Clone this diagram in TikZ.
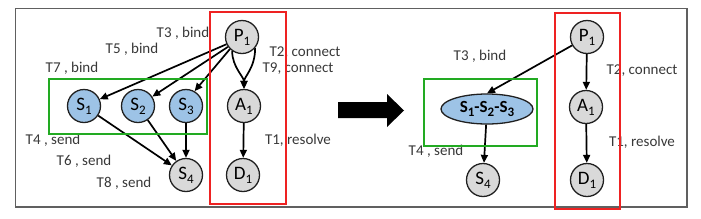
\documentclass[tikz,border=0pt]{standalone}
\usepackage{fontspec}
\setmainfont{Carlito}
\usetikzlibrary{arrows.meta,shapes.geometric}
\definecolor{txt}{HTML}{383838}
\definecolor{ndb}{HTML}{202020}
\definecolor{gfill}{HTML}{D9D9D9}
\definecolor{bfill}{HTML}{9DC3E6}
\definecolor{rbox}{HTML}{EE2222}
\definecolor{gbox}{HTML}{22AA22}
\definecolor{frm}{HTML}{606060}
\newcommand\sbs[1]{\raisebox{-0.45ex}{\fontsize{13}{13}\selectfont #1}}
\begin{document}
\begin{tikzpicture}[x=1pt,y=-1pt,
  st/.style={circle, draw=ndb, line width=1.3pt, minimum size=33pt, inner sep=0pt, fill=gfill, text=black, font=\fontsize{19}{21}\selectfont},
  bl/.style={st, fill=bfill},
  lab/.style={text=txt, font=\fontsize{15}{17}\selectfont, inner sep=0pt},
  arr/.style={-{Triangle[length=8pt,width=7pt]}, line width=1.7pt, draw=black},
  rb/.style={draw=rbox, line width=1.6pt},
  gb/.style={draw=gbox, line width=1.6pt}]
\useasboundingbox (0,0) rectangle (701,218);
\draw[frm, line width=1.4pt] (15.5,8.5) rectangle (687,207);

% left part nodes
\node[st] (P1) at (242,37) {P\sbs{1}};
\node[bl] (S1) at (84,106) {S\sbs{1}};
\node[bl] (S2) at (138,106) {S\sbs{2}};
\node[bl] (S3) at (186,106) {S\sbs{3}};
\node[st] (A1) at (244,106) {A\sbs{1}};
\node[st] (S4) at (186,175) {S\sbs{4}};
\node[st] (D1) at (243,175) {D\sbs{1}};

\draw[arr] (P1.205) -- (S1);
\draw[arr] (P1.215) -- (S2);
\draw[arr] (P1.225) -- (S3.60);
\draw[arr] (P1.235) .. controls +(0,16) and +(0,-12) .. (A1.north);
\draw[arr] (P1.-40) .. controls +(0,20) and +(0,-12) .. (A1.north);
\draw[arr] (A1) -- (D1);
\draw[arr] (S1) -- (S4);
\draw[arr] (S2) -- (S4);
\draw[arr] (S3) -- (S4);

\node[lab] (l3) at (183,33) {T3 , bind};
\node[lab] (l5) at (132,49) {T5 , bind};
\node[lab] (l7) at (72,68) {T7 , bind};
\node[lab] (l2) at (305,53) {T2, connect};
\node[lab] (l9) at (298,69) {T9, connect};
\node[lab] (l4) at (53,140) {T4 , send};
\node[lab] (l6) at (84,161) {T6 , send};
\node[lab] (l8) at (124,183) {T8 , send};
\node[lab] (l1) at (298,140) {T1, resolve};

\draw[rb] (210,12) rectangle (286,204);
\draw[gb] (49,79) rectangle (207,134);

% big arrow
\fill[black] (338,102) -- (387,102) -- (387,94) -- (404,110.5) -- (387,127) -- (387,118) -- (338,118) -- cycle;

% right part
\node[st] (P1r) at (587,37) {P\sbs{1}};
\node[st] (A1r) at (586,107) {A\sbs{1}};
\node[st] (D1r) at (587,180) {D\sbs{1}};
\node[st] (S4r) at (483,180) {S\sbs{4}};
\node[ellipse, draw=ndb, line width=1.3pt, fill=bfill, minimum width=92pt, minimum height=30pt, inner sep=0pt, text=black, font=\bfseries\fontsize{17}{19}\selectfont] (E) at (487,109) {S\sbs{1}-S\sbs{2}-S\sbs{3}};

\draw[arr] (P1r) -- (E.north);
\draw[arr] (P1r) -- (A1r);
\draw[arr] (A1r) -- (D1r);
\draw[arr] (E) -- (S4r);

\node[lab] (r3) at (480,56) {T3 , bind};
\node[lab] (r2) at (642,71) {T2, connect};
\node[lab] (r1) at (642,142) {T1, resolve};
\node[lab] (r4) at (436,151) {T4 , send};

\draw[rb] (555,13) rectangle (620,209);
\draw[gb] (424,79) rectangle (537,146);
\end{tikzpicture}
\end{document}
